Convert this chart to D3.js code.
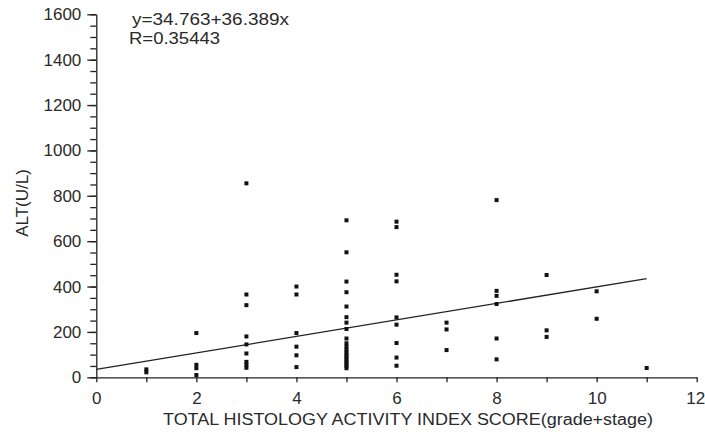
<!DOCTYPE html>
<html>
<head lang="en">
  <meta charset="UTF-8">
  <title>ALT vs histology activity index</title>
  <script src="https://cdn.jsdelivr.net/npm/d3@7"></script>
</head>
<style>
  body { margin: 0; background: #fff; }
  #chart text { font-family: "Liberation Sans", Arial, sans-serif; fill: #2a2a2a; }
  #chart .domain, #chart .tick line { stroke: #222; stroke-width: 1.3; }
</style>
<body>

<svg id="chart" width="705" height="436"></svg>

<script>
  var scores = [1, 1,
                2, 2, 2, 2,
                3, 3, 3, 3, 3, 3, 3, 3, 3,
                4, 4, 4, 4, 4, 4,
                5, 5, 5, 5, 5, 5, 5, 5, 5, 5, 5, 5, 5, 5, 5, 5, 5, 5, 5, 5,
                6, 6, 6, 6, 6, 6, 6, 6, 6,
                7, 7, 7,
                8, 8, 8, 8, 8, 8,
                9, 9, 9,
                10, 10,
                11];
  var altValues = [35, 22,
                   195, 55, 40, 10,
                   855, 365, 318, 180, 145, 105, 68, 55, 42,
                   400, 365, 195, 135, 97, 45,
                   692, 551, 422, 375, 312, 265, 241, 213, 171, 150, 135, 122, 110, 100, 90, 80, 70, 60, 50, 40,
                   686, 662, 452, 423, 264, 232, 151, 87, 51,
                   241, 211, 120,
                   781, 381, 359, 323, 171, 79,
                   451, 207, 178,
                   379, 258,
                   41];

  var intercept = 34.763;
  var slope     = 36.389;
  var rValue    = 0.35443;
  var fitRange  = [0, 11];
  var xTicks    = [0, 2, 4, 6, 8, 10, 12];
  var yTicks    = [0, 200, 400, 600, 800, 1000, 1200, 1400, 1600];

  var svg = d3.select('#chart');

  var x = d3.scaleLinear().domain([0, 12]).range([96.3, 696.7]);
  var y = d3.scaleLinear().domain([0, 1600]).range([377.3, 14.3]);

  // y axis: minor ticks every 50, labelled ticks every 200
  svg.append('g')
    .attr('transform', 'translate(' + x(0) + ',0)')
    .call(d3.axisLeft(y).tickValues(d3.range(0, 1601, 50)).tickSize(6).tickFormat(''))
    .call(function (g) { g.select('.domain').remove(); });

  svg.append('g')
    .attr('transform', 'translate(' + x(0) + ',0)')
    .call(d3.axisLeft(y).tickValues(yTicks).tickFormat(d3.format('d'))
      .tickSizeInner(9).tickSizeOuter(0).tickPadding(6))
    .call(function (g) { g.selectAll('text').style('font-size', '17px'); });

  // x axis: tick every unit, labels on even values
  svg.append('g')
    .attr('transform', 'translate(0,' + y(0) + ')')
    .call(d3.axisBottom(x).tickValues(d3.range(0, 13)).tickSizeInner(5).tickSizeOuter(0).tickPadding(10)
      .tickFormat(function (d) { return xTicks.indexOf(d) >= 0 ? d : ''; }))
    .call(function (g) {
      g.selectAll('text').style('font-size', '17px');
      // last label sits at the right edge of the picture
      g.selectAll('.tick').filter(function (d) { return d === 12; })
        .select('text').attr('text-anchor', 'end').attr('x', 8);
    });

  // regression line
  svg.append('line')
    .attr('x1', x(fitRange[0])).attr('y1', y(intercept + slope * fitRange[0]))
    .attr('x2', x(fitRange[1])).attr('y2', y(intercept + slope * fitRange[1]))
    .attr('stroke', '#222').attr('stroke-width', 1.3);

  // points
  svg.append('g').selectAll('rect')
    .data(scores)
    .enter()
      .append('rect')
      .attr('x', function (d) { return x(d) - 2; })
      .attr('y', function (d, i) { return y(altValues[i]) - 2; })
      .attr('width', 4)
      .attr('height', 4)
      .attr('fill', '#111');

  // labels
  svg.append('text')
    .attr('x', 132).attr('y', 25)
    .attr('textLength', 157).attr('lengthAdjust', 'spacingAndGlyphs')
    .style('font-size', '16px')
    .text('y=' + intercept + '+' + slope + 'x');

  svg.append('text')
    .attr('x', 129).attr('y', 44)
    .attr('textLength', 91).attr('lengthAdjust', 'spacingAndGlyphs')
    .style('font-size', '16px')
    .text('R=' + rValue);

  svg.append('text')
    .attr('x', 408).attr('y', 425)
    .attr('text-anchor', 'middle')
    .attr('textLength', 490).attr('lengthAdjust', 'spacingAndGlyphs')
    .style('font-size', '16px')
    .text('TOTAL HISTOLOGY ACTIVITY INDEX SCORE(grade+stage)');

  svg.append('text')
    .attr('transform', 'translate(28,203) rotate(-90)')
    .attr('text-anchor', 'middle')
    .style('font-size', '17px')
    .text('ALT(U/L)');
</script>
</body>
</html>
